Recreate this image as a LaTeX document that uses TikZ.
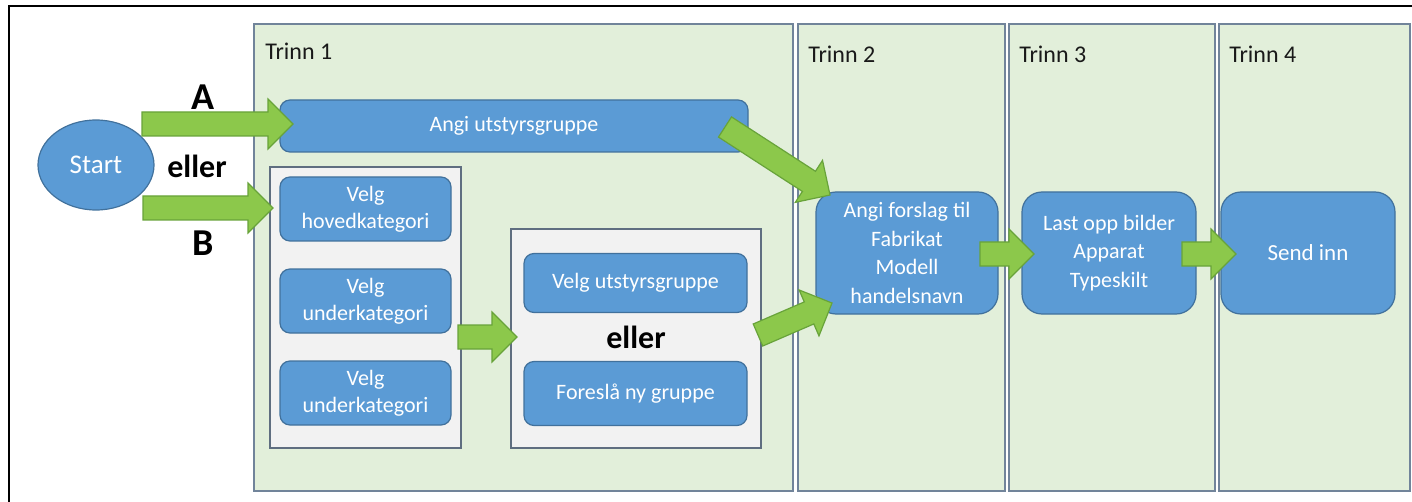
\documentclass[tikz,border=0pt]{standalone}
\usepackage{fontspec}
\setmainfont{Carlito}
\usepackage{tikz}
\usetikzlibrary{shapes.geometric, calc}
\definecolor{stagefill}{HTML}{E2EFDA}
\definecolor{stageedge}{HTML}{71849A}
\definecolor{groupfill}{HTML}{F2F2F2}
\definecolor{groupedge}{HTML}{5F6E80}
\definecolor{taskblue}{HTML}{5B9BD5}
\definecolor{taskedge}{HTML}{41719C}
\definecolor{arrowgreen}{HTML}{8CC84B}
\definecolor{arrowedge}{HTML}{68A33A}

\begin{document}
\begin{tikzpicture}[x=0.5pt, y=0.5pt,
    panel/.style={rectangle, draw=stageedge, fill=stagefill, line width=0.8pt, inner sep=0pt, minimum height=233.5pt, minimum width=#1},
    group/.style={rectangle, draw=groupedge, fill=groupfill, line width=0.7pt, inner sep=0pt},
    task/.style={rectangle, rounded corners=5pt, draw=taskedge, fill=taskblue, line width=0.6pt, text=white, align=center, inner sep=0pt, font=\fontsize{11}{13.5}\selectfont},
    stagelabel/.style={anchor=west, inner sep=0pt, font=\fontsize{12}{14}\selectfont, text=black!90},
    choice/.style={font=\fontsize{#1}{#1}\selectfont\bfseries},
    blockarrow/.style={draw=arrowedge, fill=arrowgreen, line width=0.6pt, line join=miter,
        to path={let \p1=($(\tikztotarget)-(\tikztostart)$), \n1={atan2(\y1,\x1)}, \n2={veclen(\x1,\y1)-12.5} in
            ($(\tikztostart)+(\n1+90:6pt)$) -- ++(\n1:\n2) -- ++(\n1+90:6.5pt) -- (\tikztotarget)
            -- ($(\tikztostart)+(\n1:\n2)+(\n1-90:12.5pt)$) -- ++(\n1+90:6.5pt)
            -- ($(\tikztostart)+(\n1-90:6pt)$) -- cycle}}
]
\useasboundingbox (0,0) rectangle (1412,-502);

% Frame
\draw[line width=1pt] (9,-502) |- (1412,-6);

% Stages
\node[panel=269.5pt] (trinn1) at (523.5,-257.5) {};
\node[panel=103.5pt] (trinn2) at (901.5,-257.5) {};
\node[panel=103pt] (trinn3) at (1112,-257.5) {};
\node[panel=95.5pt] (trinn4) at (1314.5,-257.5) {};
\node[stagelabel] (lbl1) at (265,-51) {Trinn 1};
\node[stagelabel] (lbl2) at (808,-54) {Trinn 2};
\node[stagelabel] (lbl3) at (1019,-54) {Trinn 3};
\node[stagelabel] (lbl4) at (1229,-54) {Trinn 4};

% Start
\node[ellipse, draw=taskedge, fill=taskblue, line width=0.6pt, minimum width=58pt, minimum height=45pt, inner sep=0pt, text=white, font=\fontsize{13.5}{15}\selectfont] (start) at (96,-165) {Start};
\node[choice=19] (optA) at (203,-97) {A};
\node[choice=16] (or1) at (197,-166) {eller};
\node[choice=19] (optB) at (203,-243) {B};

% Path A
\node[task, minimum width=234pt, minimum height=26pt] (angi) at (514,-126) {Angi utstyrsgruppe};

% Path B
\node[group, minimum width=95.5pt, minimum height=140.5pt] (catbox) at (365.5,-307.5) {};
\node[task, minimum width=85.5pt, minimum height=32pt] (hoved) at (365.5,-209) {Velg\\hovedkategori};
\node[task, minimum width=85.5pt, minimum height=32pt] (under1) at (365.5,-301) {Velg\\underkategori};
\node[task, minimum width=85.5pt, minimum height=32pt] (under2) at (365.5,-393) {Velg\\underkategori};

\node[group, minimum width=125pt, minimum height=109.5pt] (grpbox) at (636,-338.5) {};
\node[task, minimum width=111.5pt, minimum height=29.5pt] (velgut) at (635.5,-283) {Velg utstyrsgruppe};
\node[choice=16] (or2) at (636,-337) {eller};
\node[task, minimum width=111.5pt, minimum height=32pt] (foresla) at (635.5,-393.5) {Foreslå ny gruppe};

% Stages 2-4
\node[task, rounded corners=10pt, minimum width=91pt, minimum height=61pt, font=\fontsize{11}{14.3}\selectfont] (forslag) at (907,-253) {Angi forslag til\\Fabrikat\\Modell\\handelsnavn};
\node[task, rounded corners=10pt, minimum width=87pt, minimum height=61pt, font=\fontsize{11}{14.3}\selectfont] (lastopp) at (1109,-253) {Last opp bilder\\Apparat\\Typeskilt};
\node[task, rounded corners=10pt, minimum width=87pt, minimum height=61pt, font=\fontsize{11.5}{14}\selectfont] (sendinn) at (1308,-253) {Send inn};

% Arrows
\coordinate (aS) at (142,-124);
\coordinate (aE) at (293,-124);
\coordinate (bS) at (143,-208);
\coordinate (bE) at (273,-208);
\coordinate (cS) at (458,-337);
\coordinate (cE) at (517,-337);
\coordinate (dS) at (725,-127);
\coordinate (dE) at (830,-195);
\coordinate (eS) at (758,-335);
\coordinate (eE) at (832,-303);
\coordinate (fS) at (980,-254);
\coordinate (fE) at (1034,-254);
\coordinate (gS) at (1182,-254);
\coordinate (gE) at (1236,-254);
\draw[blockarrow] (aS) to (aE);
\draw[blockarrow] (bS) to (bE);
\draw[blockarrow] (cS) to (cE);
\draw[blockarrow] (dS) to (dE);
\draw[blockarrow] (eS) to (eE);
\draw[blockarrow] (fS) to (fE);
\draw[blockarrow] (gS) to (gE);

\end{tikzpicture}
\end{document}
